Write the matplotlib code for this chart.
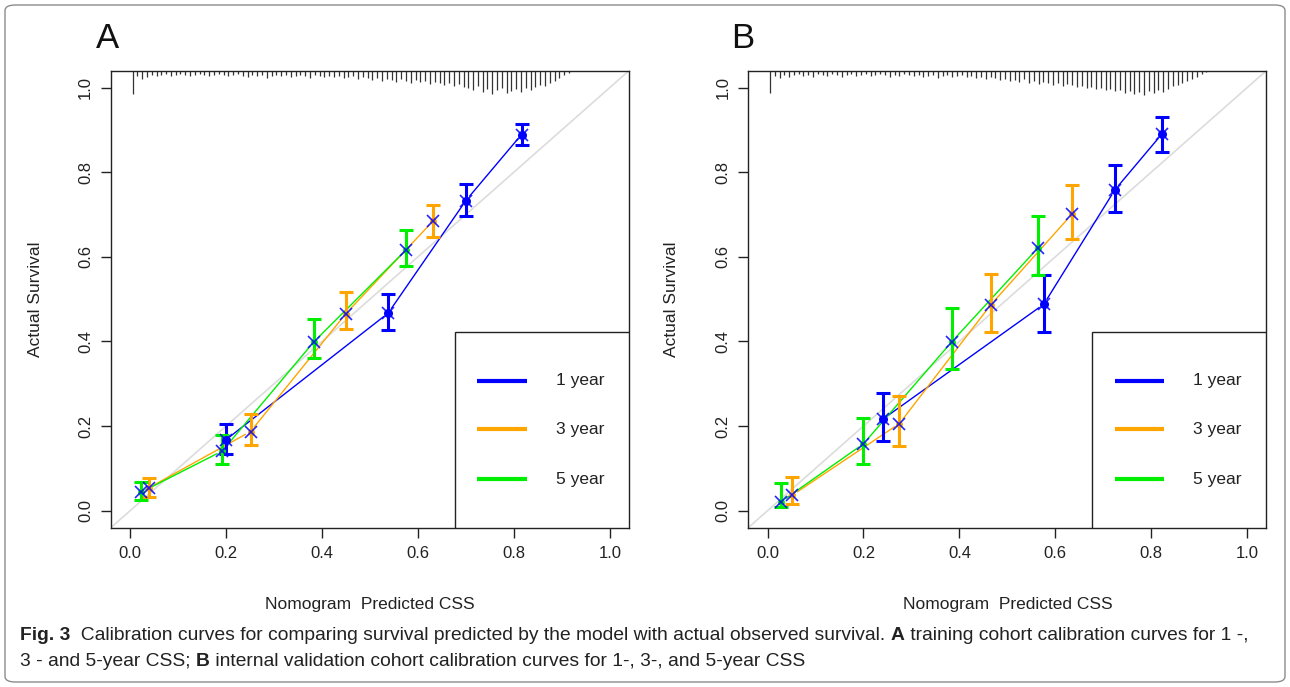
import numpy as np
import matplotlib
matplotlib.use("Agg")
import matplotlib.pyplot as plt
from matplotlib.patches import FancyBboxPatch, Rectangle

plt.rcParams['font.family'] = ['Liberation Sans', 'DejaVu Sans']

# ---- data ----
series_names = ['1 year', '3 year', '5 year']
series_colors = ['#0000FF', '#FFA500', '#00EE00']

# panel A (training cohort)
a_x = [[0.199, 0.538, 0.700, 0.816],
       [0.039, 0.251, 0.450, 0.631],
       [0.022, 0.192, 0.383, 0.576]]
a_y = [[0.167, 0.467, 0.733, 0.889],
       [0.054, 0.187, 0.466, 0.684],
       [0.043, 0.141, 0.399, 0.617]]
a_lo = [[0.135, 0.427, 0.697, 0.864],
        [0.033, 0.155, 0.429, 0.646],
        [0.025, 0.110, 0.361, 0.578]]
a_hi = [[0.205, 0.512, 0.772, 0.915],
        [0.077, 0.228, 0.516, 0.722],
        [0.067, 0.179, 0.452, 0.663]]

# panel B (internal validation cohort)
b_x = [[0.240, 0.576, 0.724, 0.822],
       [0.052, 0.275, 0.465, 0.634],
       [0.028, 0.200, 0.384, 0.563]]
b_y = [[0.216, 0.488, 0.758, 0.890],
       [0.037, 0.206, 0.486, 0.700],
       [0.021, 0.158, 0.399, 0.620]]
b_lo = [[0.165, 0.423, 0.705, 0.847],
        [0.016, 0.154, 0.423, 0.643],
        [0.009, 0.110, 0.335, 0.558]]
b_hi = [[0.278, 0.558, 0.817, 0.930],
        [0.080, 0.271, 0.559, 0.769],
        [0.066, 0.220, 0.479, 0.697]]

# rug of predicted values along the top (spike length in px, one per 0.01 bin)
a_rug = [23,
         5, 8, 6, 4, 5, 4, 3, 5, 4, 3,
         4, 5, 4, 3, 4, 5, 4, 3, 4, 5,
         4, 3, 5, 6, 4, 5, 4, 7, 5, 4,
         5, 4, 6, 5, 4, 5, 7, 4, 5, 6,
         5, 6, 5, 7, 6, 5, 8, 6, 7, 9,
         7, 10, 8, 9, 11, 8, 10, 12, 9, 11,
         10, 13, 11, 12, 14, 12, 15, 13, 16, 17,
         19, 15, 21, 18, 23, 19, 17, 22, 20, 18,
         21, 17, 19, 16, 14, 15, 12, 10, 7, 4,
         2]
b_rug = [22,
         5, 7, 4, 6, 4, 3, 5, 4, 6, 3,
         4, 5, 3, 4, 6, 4, 3, 5, 4, 3,
         5, 4, 3, 4, 6, 4, 5, 3, 4, 5,
         4, 6, 5, 4, 7, 5, 4, 6, 5, 4,
         6, 5, 7, 6, 8, 6, 7, 9, 8, 10,
         9, 11, 8, 12, 10, 13, 11, 12, 14, 12,
         15, 13, 14, 16, 15, 17, 16, 18, 17, 19,
         18, 20, 19, 22, 20, 23, 21, 24, 20, 22,
         19, 21, 18, 15, 14, 12, 10, 8, 6, 3,
         1]
rug_x = np.round(0.005 + 0.01 * np.arange(len(a_rug)), 3)

ticks = [0.0, 0.2, 0.4, 0.6, 0.8, 1.0]
tick_labels = ['0.0', '0.2', '0.4', '0.6', '0.8', '1.0']

fig = plt.figure(figsize=(12.9, 6.87), dpi=100)

# outer rounded frame
frame = FancyBboxPatch((5 / 1290, 5 / 687), 1280 / 1290, 677 / 687,
                       boxstyle="round,pad=0,rounding_size=0.008",
                       transform=fig.transFigure, fill=False,
                       edgecolor='#8c8c8c', linewidth=1.0)
fig.patches.append(frame)

GAP = 6  # pixels left open around each point (R type="b")


def gapped_line(ax, xs, ys, color):
    pts = ax.transData.transform(np.column_stack([xs, ys]))
    inv = ax.transData.inverted()
    for p0, p1 in zip(pts[:-1], pts[1:]):
        d = p1 - p0
        L = np.hypot(*d)
        if L <= 2 * GAP:
            continue
        u = d / L
        q = inv.transform(np.array([p0 + GAP * u, p1 - GAP * u]))
        ax.plot(q[:, 0], q[:, 1], color=color, lw=1.0, zorder=3)


def panel(left, letter, letter_x, xs, ys, lo, hi, rug):
    ax = fig.add_axes([left, 0.232, 0.4016, 0.6652])
    ax.set_xlim(-0.04, 1.04)
    ax.set_ylim(-0.04, 1.04)
    for s in ax.spines.values():
        s.set_linewidth(1.0)
        s.set_color('#222222')
    ax.set_xticks(ticks)
    ax.set_xticklabels(tick_labels)
    ax.set_yticks(ticks)
    ax.set_yticklabels(tick_labels, rotation=90, va='center')
    ax.tick_params(direction='out', length=7, width=1, labelsize=12,
                   colors='#222222', pad=6)

    # ideal line
    ax.plot([-0.04, 1.04], [-0.04, 1.04], color='#dcdcdc', lw=1.2, zorder=1)

    # rug at top
    px_per_y = 457.0 / 1.08
    lengths = np.array(rug) / px_per_y
    ax.vlines(rug_x, 1.04 - lengths, 1.04, color='#333333', lw=0.9,
              zorder=2, clip_on=False)

    # calibration curves
    for i in range(3):
        c = series_colors[i]
        gapped_line(ax, xs[i], ys[i], c)
        yerr = [np.array(ys[i]) - np.array(lo[i]),
                np.array(hi[i]) - np.array(ys[i])]
        ax.errorbar(xs[i], ys[i], yerr=yerr, fmt='none', ecolor=c,
                    elinewidth=2.2, capsize=5, capthick=2.2, zorder=4)
        ax.plot(xs[i], ys[i], 'o', color=c, ms=6.5 if i == 0 else 5,
                mec='none', zorder=5)
        ax.plot(xs[i], ys[i], 'x', color='#0000FF', ms=8, mew=1.2,
                zorder=6, alpha=0.85)

    # legend box
    ax.add_patch(Rectangle((0.664, -0.01), 0.35, 0.438, transform=ax.transAxes,
                           fill=False, edgecolor='#222222', lw=1.0,
                           clip_on=True, zorder=7))
    rows = [0.321, 0.215, 0.106]
    for i in range(3):
        ax.plot([0.707, 0.803], [rows[i], rows[i]], transform=ax.transAxes,
                color=series_colors[i], lw=3, solid_capstyle='butt', zorder=8)
        ax.text(0.859, rows[i], series_names[i], transform=ax.transAxes,
                fontsize=12.5, va='center', ha='left', color='#222222', zorder=8)

    fig.text(letter_x / 1290, 1 - 38 / 687, letter, fontsize=25,
             ha='left', va='center', color='#111111')
    return ax


axA = panel(0.0860, 'A', 96, a_x, a_y, a_lo, a_hi, a_rug)
axB = panel(0.5801, 'B', 731, b_x, b_y, b_lo, b_hi, b_rug)

for xc in [370, 1008]:
    fig.text(xc / 1290, 1 - 604 / 687, 'Nomogram  Predicted CSS', fontsize=12.5,
             ha='center', va='center', color='#222222')
for xc in [35, 672]:
    fig.text(xc / 1290, 1 - 299 / 687, 'Actual Survival', rotation=90,
             fontsize=12.5, ha='center', va='center', color='#222222')

# caption with mixed bold runs
lines = [
    [('Fig. 3', True), ('  Calibration curves for comparing survival predicted by the model with actual observed survival. ', False),
     ('A', True), (' training cohort calibration curves for 1 -,', False)],
    [('3 - and 5-year CSS; ', False), ('B', True),
     (' internal validation cohort calibration curves for 1-, 3-, and 5-year CSS', False)],
]
fig.canvas.draw()
renderer = fig.canvas.get_renderer()
for li, runs in enumerate(lines):
    x = 20
    y = 1 - (636 + 26 * li) / 687
    for txt, bold in runs:
        t = fig.text(x / 1290, y, txt, fontsize=13.9,
                     weight='bold' if bold else 'normal', ha='left', va='center',
                     color='#222222')
        bb = t.get_window_extent(renderer=renderer)
        x += bb.width

fig.savefig('out.png', dpi=100)
